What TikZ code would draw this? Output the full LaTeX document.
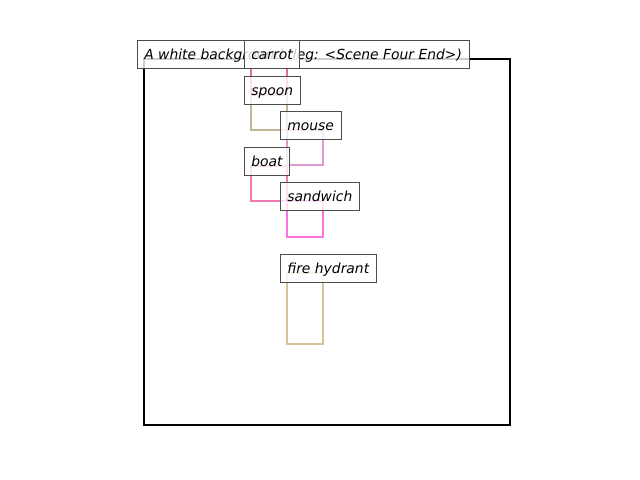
\documentclass[tikz,border=0pt]{standalone}
\usepackage{fontspec}
\setmainfont{DejaVu Sans}
\usepackage{xcolor}
\usepackage{tikz}
\definecolor{Ccarrot}{HTML}{E8708A}
\definecolor{Cspoon}{HTML}{C4B49C}
\definecolor{Cmouse}{HTML}{E09AD0}
\definecolor{Cboat}{HTML}{F07AB0}
\definecolor{Csandwich}{HTML}{FF70E0}
\definecolor{Chydrant}{HTML}{D4C498}

\begin{document}
\begin{tikzpicture}[x=0.72pt,y=-0.72pt]
\tikzstyle{bb}=[line width=1.7pt]
\tikzstyle{lbl}=[draw=black!70,fill=white,fill opacity=0.8,text opacity=1,
  font=\fontsize{10}{12}\selectfont\itshape,inner xsep=5pt,inner ysep=5pt,
  text height=8.7pt,text depth=1.5pt,anchor=base west,xshift=-5pt]

\useasboundingbox (0,0) rectangle (640,480);
% frame
\draw[line width=1.6pt] (144,59) rectangle (510,425);
%
\draw[bb,Ccarrot] (251,59) rectangle (287,94);
\draw[bb,Cspoon] (251,95) rectangle (287,130);
\draw[bb,Cmouse] (287,130) rectangle (323,165);
\draw[bb,Cboat] (251,166) rectangle (287,201);
\draw[bb,Csandwich] (287,201) rectangle (323,237);
\draw[bb,Chydrant] (287,273) rectangle (323,344);
%
\node[lbl](title) at (144,59){A white background (leg: <Scene Four End>)};
\node[lbl](carrot) at (251,59){carrot};
\node[lbl](spoon) at (251,95){spoon};
\node[lbl](mouse) at (287,130){mouse};
\node[lbl](boat) at (251,166){boat};
\node[lbl](sandwich) at (287,201){sandwich};
\node[lbl](hydrant) at (287,273){fire hydrant};
\end{tikzpicture}
\end{document}
